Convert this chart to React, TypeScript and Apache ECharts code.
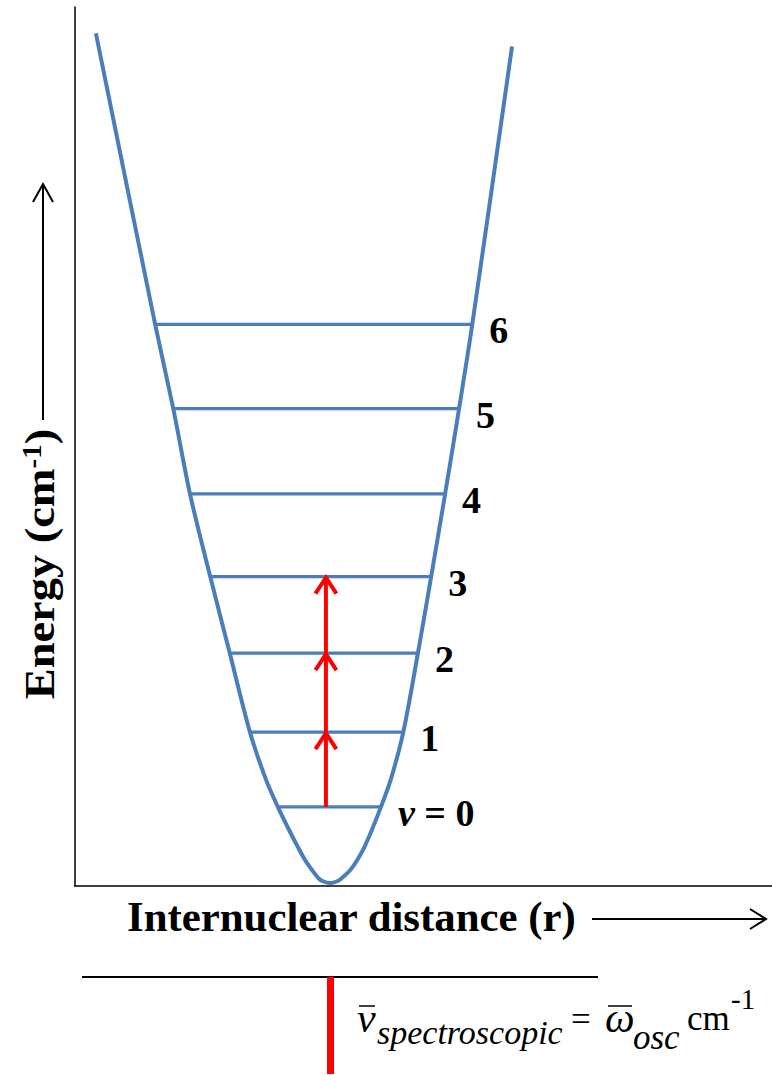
import React, { useEffect, useRef } from 'react';
import * as echarts from 'echarts';

// Potential-energy curve (arbitrary units: r 0-100, energy 0-100)
const curveR = [3.0, 11.5, 14.1, 16.5, 19.4, 22.2, 25.1, 27.4, 29.1, 30.7, 32.0, 33.0, 34.0, 34.9, 35.5, 36.6, 37.7, 38.3, 39.5, 40.5, 41.5, 42.6, 43.9, 45.3, 47.1, 49.2, 51.1, 53.1, 55.1, 57.0, 62.7];
const curveE = [97.0, 63.9, 54.3, 44.6, 35.2, 26.5, 17.5, 12.1, 9.0, 6.4, 4.4, 2.96, 1.82, 0.91, 0.57, 0.34, 0.57, 0.91, 1.82, 2.96, 4.4, 6.4, 9.0, 12.1, 17.5, 26.5, 35.2, 44.6, 54.3, 63.9, 95.5];

// Vibrational levels
const levelEnergy = [9.0, 17.5, 26.5, 35.2, 44.6, 54.3, 63.9];
const levelLeft = [29.1, 25.1, 22.2, 19.4, 16.5, 14.1, 11.5];
const levelRight = [43.9, 47.1, 49.2, 51.1, 53.1, 55.1, 57.0];
const levelLabels = ['{it|v} = 0', '1', '2', '3', '4', '5', '6'];

// Transitions (red arrows)
const arrowR = [36.0, 36.0, 36.0];
const arrowFrom = [9.0, 17.5, 26.5];
const arrowTo = [17.5, 26.5, 35.2];

const BLUE = '#4a7ebb';
const RED = '#ff0000';
const SERIF = '"Liberation Serif", "Times New Roman", serif';

export default function App() {
  const ref = useRef<HTMLDivElement>(null);

  useEffect(() => {
    if (!ref.current) return;
    const chart = echarts.init(ref.current, null, { renderer: 'svg' });

    const levelSeries = levelEnergy.map((e, i) => ({
      type: 'line',
      name: 'level' + i,
      data: [[levelLeft[i], e], [levelRight[i], e]],
      symbol: 'none',
      lineStyle: { color: BLUE, width: 3.2 },
      z: 3,
      endLabel: {
        show: true,
        formatter: () => levelLabels[i],
        distance: 17,
        offset: [0, 6],
        color: '#000',
        fontFamily: SERIF,
        fontWeight: 'bold',
        fontSize: 38,
        rich: {
          it: { fontStyle: 'italic', fontWeight: 'bold', fontFamily: SERIF, fontSize: 38, color: '#000' },
        },
      },
    }));

    const option: any = {
      animation: false,
      grid: { left: 75, right: 0, top: 7, bottom: 189 },
      xAxis: {
        type: 'value', min: 0, max: 100,
        axisLine: { show: true, lineStyle: { color: '#000', width: 1.5 } },
        axisTick: { show: false }, axisLabel: { show: false }, splitLine: { show: false },
      },
      yAxis: {
        type: 'value', min: 0, max: 100,
        axisLine: { show: true, lineStyle: { color: '#000', width: 1.5 } },
        axisTick: { show: false }, axisLabel: { show: false }, splitLine: { show: false },
      },
      series: [
        {
          type: 'line',
          name: 'potential',
          data: curveR.map((r, i) => [r, curveE[i]]),
          smooth: 0.3,
          symbol: 'none',
          lineStyle: { color: BLUE, width: 4 },
          z: 2,
        },
        ...levelSeries,
        {
          type: 'custom',
          name: 'transitions',
          data: arrowR.map((r, i) => [r, arrowFrom[i], arrowTo[i]]),
          encode: { x: 0, y: [1, 2] },
          z: 5,
          renderItem: (params: any, api: any) => {
            const p0 = api.coord([api.value(0), api.value(1)]);
            const p1 = api.coord([api.value(0), api.value(2)]);
            return {
              type: 'group',
              children: [
                {
                  type: 'line',
                  shape: { x1: p0[0], y1: p0[1], x2: p1[0], y2: p1[1] + 2 },
                  style: { stroke: RED, lineWidth: 4 },
                },
                {
                  type: 'polyline',
                  shape: { points: [[p1[0] - 10.5, p1[1] + 17], [p1[0], p1[1] + 1], [p1[0] + 10.5, p1[1] + 17]] },
                  style: { stroke: RED, lineWidth: 4, fill: 'none' },
                },
              ],
            };
          },
        },
      ],
      graphic: [
        // Energy axis title + arrow
        {
          type: 'text', x: 40, y: 564, rotation: Math.PI / 2, scaleX: 1.08,
          style: {
            text: 'Energy (cm{sup|-1})',
            fill: '#000', fontFamily: SERIF, fontWeight: 'bold', fontSize: 43,
            textAlign: 'center', textVerticalAlign: 'middle',
            rich: {
              sup: { fontSize: 27, fontWeight: 'bold', fontFamily: SERIF, verticalAlign: 'top', fill: '#000' },
            },
          },
        },
        { type: 'line', shape: { x1: 43, y1: 420, x2: 43, y2: 185 }, style: { stroke: '#000', lineWidth: 2 } },
        { type: 'polyline', shape: { points: [[33, 202], [43, 184], [53, 202]] }, style: { stroke: '#000', lineWidth: 2, fill: 'none' } },
        // Internuclear distance title + arrow
        {
          type: 'text', x: 127, y: 917, scaleX: 1.02,
          style: {
            text: 'Internuclear distance (r)',
            fill: '#000', fontFamily: SERIF, fontWeight: 'bold', fontSize: 42,
            textAlign: 'left', textVerticalAlign: 'middle',
          },
        },
        { type: 'line', shape: { x1: 592, y1: 919, x2: 765, y2: 919 }, style: { stroke: '#000', lineWidth: 2 } },
        { type: 'polyline', shape: { points: [[750, 909], [766, 919], [750, 929]] }, style: { stroke: '#000', lineWidth: 2, fill: 'none' } },
        // Spectrum
        { type: 'line', shape: { x1: 82, y1: 977, x2: 598, y2: 977 }, style: { stroke: '#000', lineWidth: 2 } },
        { type: 'rect', shape: { x: 327, y: 977, width: 7, height: 97 }, style: { fill: RED } },
        // Formula
        { type: 'text', x: 357, y: 1018, style: { text: 'v', fill: '#000', fontFamily: SERIF, fontStyle: 'italic', fontSize: 42, textAlign: 'left', textVerticalAlign: 'middle' } },
        { type: 'line', shape: { x1: 359, y1: 1006, x2: 375, y2: 1006 }, style: { stroke: '#000', lineWidth: 1.5 } },
        { type: 'text', x: 377, y: 1032, style: { text: 'spectroscopic', fill: '#000', fontFamily: SERIF, fontStyle: 'italic', fontSize: 34, textAlign: 'left', textVerticalAlign: 'middle' } },
        { type: 'text', x: 571, y: 1019, style: { text: '=', fill: '#000', fontFamily: SERIF, fontSize: 35, textAlign: 'left', textVerticalAlign: 'middle' } },
        { type: 'text', x: 605, y: 1018, style: { text: 'ω', fill: '#000', fontFamily: SERIF, fontStyle: 'italic', fontSize: 42, textAlign: 'left', textVerticalAlign: 'middle' } },
        { type: 'line', shape: { x1: 608, y1: 1006, x2: 632, y2: 1006 }, style: { stroke: '#000', lineWidth: 1.5 } },
        { type: 'text', x: 633, y: 1037, style: { text: 'osc', fill: '#000', fontFamily: SERIF, fontStyle: 'italic', fontSize: 35, textAlign: 'left', textVerticalAlign: 'middle' } },
        { type: 'text', x: 687, y: 1018, style: { text: 'cm', fill: '#000', fontFamily: SERIF, fontSize: 35, textAlign: 'left', textVerticalAlign: 'middle' } },
        { type: 'text', x: 731, y: 999, style: { text: '-1', fill: '#000', fontFamily: SERIF, fontSize: 29, textAlign: 'left', textVerticalAlign: 'middle' } },
      ],
    };

    chart.setOption(option);
    return () => chart.dispose();
  }, []);

  return <div ref={ref} style={{ position: 'absolute', left: 0, top: 0, width: 772, height: 1075, background: '#fff' }} />;
}
